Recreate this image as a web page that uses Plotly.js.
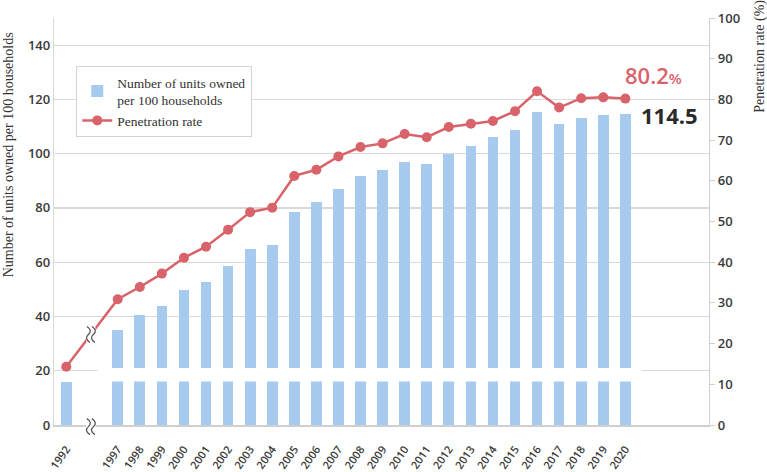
<!DOCTYPE html>
<html>
<head>
<meta charset="utf-8">
<script src="https://cdn.plot.ly/plotly-3.0.1.min.js"></script>
<style>html,body{margin:0;padding:0;background:#fff;}#chart{width:767px;height:472px;}</style>
</head>
<body>
<div id="chart"></div>
<script>
// ---- data ----
var years = ['1992','1997','1998','1999','2000','2001','2002','2003','2004','2005','2006','2007','2008','2009','2010','2011','2012','2013','2014','2015','2016','2017','2018','2019','2020'];
var unitsPer100 = [16.0,35.0,40.7,44.0,49.9,52.7,58.7,64.8,66.4,78.6,82.1,86.9,91.8,93.8,97.0,96.1,100.0,102.9,106.2,108.6,115.2,110.9,113.0,114.1,114.5];
var penetration = [14.3,30.9,33.9,37.2,41.1,43.8,48.0,52.3,53.4,61.2,62.7,66.0,68.3,69.2,71.5,70.7,73.2,74.0,74.7,77.1,82.0,78.0,80.3,80.5,80.2];
var leftTicks = [0,20,40,60,80,100,120,140];
var rightTicks = [0,10,20,30,40,50,60,70,80,90,100];
var breakLow = 16, breakHigh = 21;   // axis break band (units axis)

// ---- layout helpers ----
var yearGap = 1.33; // extra category slots for the broken 1992–1997 span
var xpos = years.map(function(y,i){ return i === 0 ? 0 : i + yearGap; });
var last = years.length - 1;
var barColor = '#a7cbee', lineColor = '#d9636b';

var traces = [
  {type:'bar', name:'Number of units owned<br>per 100 households', x:xpos, y:unitsPer100,
   marker:{color:barColor}, width:0.485, yaxis:'y', hoverinfo:'x+y'},
  {type:'scatter', mode:'lines+markers', name:'Penetration rate', x:xpos, y:penetration,
   line:{color:lineColor, width:2.5}, marker:{color:lineColor, size:10}, yaxis:'y2'}
];

// break mark position on the line, between 1992 and 1997
var bx = (xpos[0] + xpos[1]) / 2 - 0.05;
var by = penetration[0] + (penetration[1]-penetration[0]) * (bx - xpos[0]) / (xpos[1]-xpos[0]);

function squiggle(cx){
  return 'M'+(cx+1.5)+',-8 Q'+(cx-4.5)+',-4 '+cx+',0 Q'+(cx+4.5)+',4 '+(cx-1.5)+',8';
}
function breakShapes(xref, yref, xa, ya){
  var base = {xref:xref, yref:yref, xsizemode:'pixel', ysizemode:'pixel', xanchor:xa, yanchor:ya, layer:'above'};
  return [
    Object.assign({}, base, {type:'path', path:'M-4.5,-8 L4.5,-8 L4.5,8 L-4.5,8 Z', fillcolor:'#ffffff', line:{width:0}}),
    Object.assign({}, base, {type:'path', path:squiggle(-2.5), line:{color:'#555555', width:1.3}}),
    Object.assign({}, base, {type:'path', path:squiggle(2.5), line:{color:'#555555', width:1.3}})
  ];
}

var shapes = [
  {type:'rect', xref:'x', yref:'y', x0:xpos[0]+1.42, x1:xpos[last]+0.75, y0:breakLow, y1:breakHigh,
   fillcolor:'#ffffff', line:{width:0}, layer:'above'}
].concat(breakShapes('x','y2',bx,by)).concat(breakShapes('x','paper',bx,-0.004));

var tickFont = {family:'Open Sans, sans-serif', size:13, color:'#3a3a3a', weight:600};
var serif = 'Liberation Serif, Times New Roman, serif';

var layout = {
  width:767, height:472,
  margin:{l:54, r:58, t:18, b:47},
  paper_bgcolor:'#ffffff', plot_bgcolor:'#ffffff',
  showlegend:true,
  legend:{x:0.034, y:0.882, xanchor:'left', yanchor:'top', bgcolor:'#ffffff',
          bordercolor:'#d4d4d4', borderwidth:1,
          font:{family:serif, size:13.5, color:'#333333'}, tracegroupgap:0},
  bargap:0,
  xaxis:{range:[-0.557, xpos[last]+3.79], tickmode:'array', tickvals:xpos, ticktext:years,
         tickangle:-55, ticklabelstandoff:12,
         tickfont:{family:'Open Sans, sans-serif', size:11, color:'#3a3a3a', weight:600},
         showgrid:false, zeroline:false, showline:true, linecolor:'#cfcfcf', linewidth:1.5, ticks:'', fixedrange:true},
  yaxis:{range:[0,150], tickmode:'array', tickvals:leftTicks, showgrid:true, gridcolor:'#d9d9d9', gridwidth:1.2,
         zeroline:false, showline:true, linecolor:'#d9d9d9', linewidth:1.2, tickfont:tickFont, ticks:''},
  yaxis2:{range:[0,100], overlaying:'y', side:'right', tickmode:'array', tickvals:rightTicks, showgrid:false,
          zeroline:false, showline:true, linecolor:'#cfcfcf', linewidth:1.2, ticks:'outside', ticklen:5,
          tickcolor:'#cfcfcf', tickfont:tickFont},
  shapes:shapes,
  annotations:[
    {xref:'paper', yref:'paper', x:-0.070, y:0.663, xanchor:'center', yanchor:'middle',
     text:'Number of units owned per 100 households',
     textangle:-90, showarrow:false, font:{family:serif, size:14, color:'#333333'}},
    {xref:'paper', yref:'paper', x:1.078, y:0.905, xanchor:'center', yanchor:'middle',
     text:'Penetration rate (%)',
     textangle:-90, showarrow:false, font:{family:serif, size:14, color:'#333333'}},
    {xref:'x', yref:'y2', x:xpos[last], y:penetration[last], xanchor:'left', yanchor:'middle', xshift:-2, yshift:24,
     text:penetration[last].toFixed(1)+'<span style="font-size:15px">%</span>', showarrow:false,
     font:{family:'Open Sans, sans-serif', size:22, color:lineColor, weight:600}},
    {xref:'x', yref:'y', x:xpos[last], y:unitsPer100[last], xanchor:'left', yanchor:'middle', xshift:14, yshift:-1,
     text:unitsPer100[last].toFixed(1), showarrow:false,
     font:{family:'Open Sans, sans-serif', size:22, color:'#2a2a2a', weight:700}}
  ]
};

Plotly.newPlot('chart', traces, layout, {displayModeBar:false, staticPlot:true});
</script>
</body>
</html>
